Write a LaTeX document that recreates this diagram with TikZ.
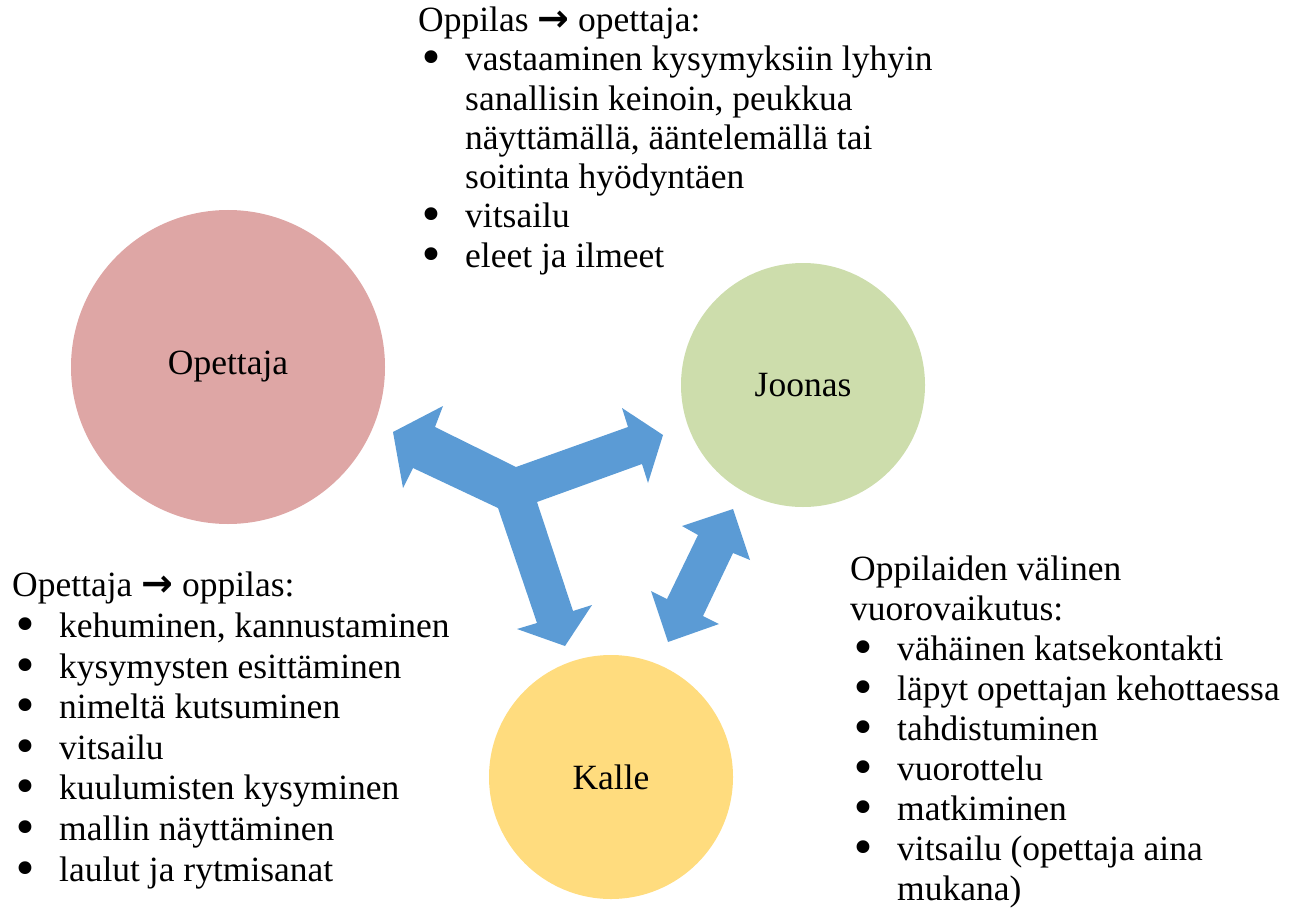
\documentclass[tikz,border=0pt]{standalone}
\usepackage{fontspec}
\setmainfont{Liberation Serif}
\newfontfamily\symfont{DejaVu Sans}
\usetikzlibrary{positioning}

\definecolor{punainen}{RGB}{222,166,165}
\definecolor{vihrea}{RGB}{205,221,172}
\definecolor{keltainen}{RGB}{255,220,126}
\definecolor{sininen}{RGB}{91,155,213}

\newcommand{\nuoli}{{\symfont\bfseries\fontsize{38}{40}\selectfont →}}
\newcommand{\pallo}{\makebox[47pt][l]{\smash{\raisebox{-3pt}{\symfont\fontsize{44}{40}\selectfont •}}}}
\newcommand{\jatko}{\hspace*{47pt}}

\begin{document}
\begin{tikzpicture}[x=1pt, y=-1pt,
  every node/.style={font=\fontsize{35.5}{40}\selectfont, inner sep=0pt},
  hahmo/.style={circle, minimum size=#1, align=center},
  lista/.style={anchor=base west, align=left}]
  \useasboundingbox (0,0) rectangle (1292,909);

  % henkilot
  \node[hahmo=314pt, fill=punainen] (opettaja) at (228,367) {Opettaja};
  \node[hahmo=244pt, fill=vihrea] (joonas) at (803,385) {Joonas};
  \node[hahmo=244pt, fill=keltainen] (kalle) at (611,777) {Kalle};

  % vuorovaikutusnuolet
  \fill[sininen] (393,432) -- (443,406) -- (435,427) -- (516,467) -- (628,427)
    -- (622,408) -- (663,435) -- (648,483) -- (642,464) -- (537,502)
    -- (573,611) -- (592,605) -- (565,646) -- (517,629) -- (537,623)
    -- (498,508) -- (413,468) -- (403,488) -- cycle;
  \fill[sininen] (733,509) -- (750,560) -- (733,553) -- (703,616) -- (719,624)
    -- (668,642) -- (651,591) -- (667,599) -- (698,535) -- (682,526) -- cycle;

  % tekstit (ankkuri = viimeisen rivin perusviiva)
  \node[lista, font=\fontsize{35.5}{39.2}\selectfont] (oppilaalta) at (418,267)
    {Oppilas \nuoli{} opettaja:\\
     \pallo vastaaminen kysymyksiin lyhyin\\
     \jatko sanallisin keinoin, peukkua\\
     \jatko näyttämällä, ääntelemällä tai\\
     \jatko soitinta hyödyntäen\\
     \pallo vitsailu\\
     \pallo eleet ja ilmeet};
  \node[lista, font=\fontsize{35.5}{40.6}\selectfont] (opettajalta) at (12,881)
    {Opettaja \nuoli{} oppilas:\\
     \pallo kehuminen, kannustaminen\\
     \pallo kysymysten esittäminen\\
     \pallo nimeltä kutsuminen\\
     \pallo vitsailu\\
     \pallo kuulumisten kysyminen\\
     \pallo mallin näyttäminen\\
     \pallo laulut ja rytmisanat};
  \node[lista] (oppilaiden) at (850,900)
    {Oppilaiden välinen\\
     vuorovaikutus:\\
     \pallo vähäinen katsekontakti\\
     \pallo läpyt opettajan kehottaessa\\
     \pallo tahdistuminen\\
     \pallo vuorottelu\\
     \pallo matkiminen\\
     \pallo vitsailu (opettaja aina\\
     \jatko mukana)};
\end{tikzpicture}
\end{document}
